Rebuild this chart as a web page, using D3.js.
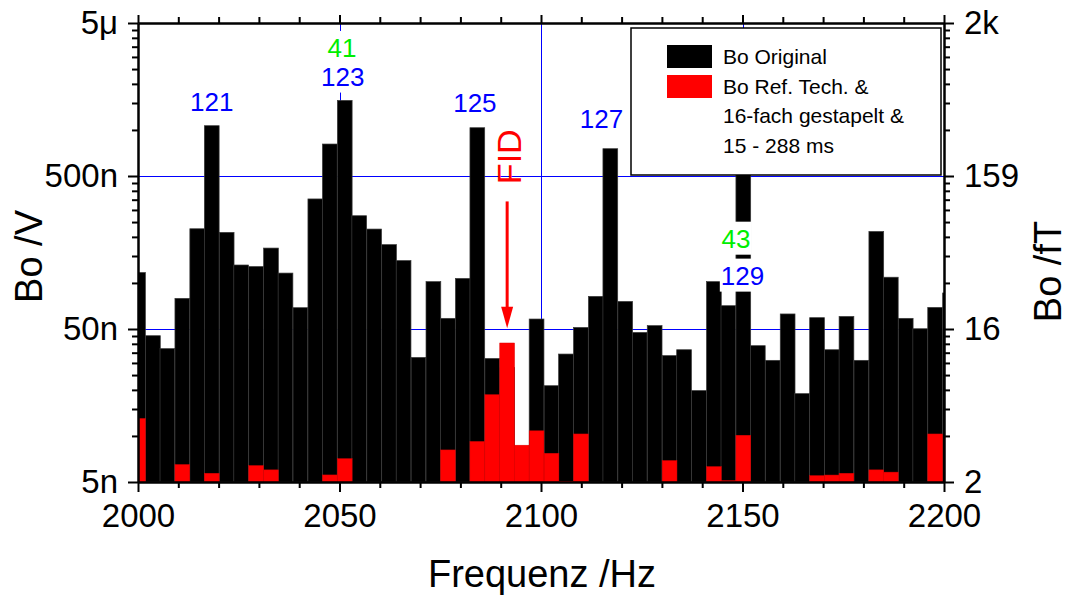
<!doctype html>
<html lang="de">
<head>
    <meta charset="UTF-8">
    <title>Bo Spektrum</title>
    <script src="https://cdnjs.cloudflare.com/ajax/libs/d3/7.8.5/d3.min.js"></script>
</head>

<body>

<svg id="chart" width="1069" height="597"></svg>

<script>

    // bin centres (Hz), bin width = 1 / 273 ms
    var freqs = [2000.0, 2003.7, 2007.3, 2011.0, 2014.7, 2018.3, 2022.0, 2025.6, 2029.3, 2033.0,
        2036.6, 2040.3, 2044.0, 2047.6, 2051.3, 2054.9, 2058.6, 2062.3, 2065.9, 2069.6,
        2073.3, 2076.9, 2080.6, 2084.2, 2087.9, 2091.6, 2095.2, 2098.9, 2102.6, 2106.2,
        2109.9, 2113.6, 2117.2, 2120.9, 2124.5, 2128.2, 2131.9, 2135.5, 2139.2, 2142.9,
        2146.5, 2150.2, 2153.8, 2157.5, 2161.2, 2164.8, 2168.5, 2172.2, 2175.8, 2179.5,
        2183.2, 2186.8, 2190.5, 2194.1, 2197.8, 2201.5];
    var binWidth = 3.663;

    // amplitudes in nV
    var boOriginal = [117, 45.2, 37.2, 79.3, 226, 1066, 214, 131, 128, 169,
        116, 68.9, 354, 809, 1560, 275, 225, 178, 140, 32.6,
        102, 58.7, 107, 1034, 32.1, 28, 8, 58.1, 21.3, 34.3,
        51.2, 81.7, 754, 75.7, 47.5, 52.6, 33.5, 36.6, 19.8, 102,
        71, 1300, 38.9, 31.2, 62.7, 18.9, 59.3, 36.6, 60.4, 31.2,
        217, 109, 58.7, 50.2, 69.2, 86];

    var boRefTech = [13.0, null, null, 6.5, null, 5.7, null, null, 6.4, 6.0,
        null, null, null, 5.56, 7.1, null, null, null, null, null,
        null, 8.1, null, 9.2, 18.6, 40.5, 8.7, 10.8, 7.7, 5.05,
        10.3, null, null, null, null, null, 6.9, null, null, 6.3,
        5.1, 10.1, null, null, null, null, 5.5, 5.55, 5.7, null,
        6.0, 5.8, null, null, 10.3, null];

    var xTicks = [2000, 2050, 2100, 2150, 2200];
    var yTicks = [5, 50, 500, 5000];
    var yLabelsLeft = ["5n", "50n", "500n", "5\u03bc"];
    var yLabelsRight = ["2", "16", "159", "2k"];

    // harmonic markers
    var markText = ["121", "41", "123", "125", "127", "43", "129"];
    var markFreq = [2018.3, 2050.6, 2050.8, 2083.6, 2115.0, 2148.4, 2150.0];
    var markVal = [1320, 3000, 1950, 1316, 1035, 170, 97.5];
    var markColor = ["#0000ff", "#00ee00", "#0000ff", "#0000ff", "#0000ff", "#00ee00", "#0000ff"];

    var fidFreq = 2091.6;

    var font = "'Liberation Sans', Arial, Helvetica, sans-serif";

    var plotLeft = 138, plotRight = 944, plotTop = 23, plotBottom = 482;

    var svg = d3.select('#chart');

    svg.append('rect')
        .attr('width', 1069)
        .attr('height', 597)
        .attr('fill', 'white');

    var x = d3.scaleLinear().domain([2000, 2200]).range([plotLeft, plotRight]);
    var y = d3.scaleLog().domain([5, 5000]).range([plotBottom, plotTop]);

    svg.append('clipPath').attr('id', 'plotclip')
        .append('rect')
        .attr('x', plotLeft).attr('y', plotTop)
        .attr('width', plotRight - plotLeft).attr('height', plotBottom - plotTop);

    // grid
    var grid = svg.append('g').attr('shape-rendering', 'crispEdges');
    [50, 500].forEach(function (v) {
        grid.append('line')
            .attr('x1', plotLeft).attr('x2', plotRight)
            .attr('y1', Math.round(y(v)) + 0.5).attr('y2', Math.round(y(v)) + 0.5)
            .attr('stroke', '#0000ff').attr('stroke-width', 1);
    });
    [2050, 2100, 2150].forEach(function (f) {
        grid.append('line')
            .attr('x1', Math.round(x(f)) + 0.5).attr('x2', Math.round(x(f)) + 0.5)
            .attr('y1', plotTop).attr('y2', plotBottom)
            .attr('stroke', '#0000ff').attr('stroke-width', 1);
    });

    // bars
    var bars = svg.append('g').attr('clip-path', 'url(#plotclip)');

    bars.selectAll('rect.orig')
        .data(freqs)
        .enter()
        .append('rect')
        .attr('class', 'orig')
        .attr('x', function (f) { return x(f - binWidth / 2); })
        .attr('width', function (f) { return x(f + binWidth / 2) - x(f - binWidth / 2); })
        .attr('y', function (f, i) { return y(boOriginal[i]); })
        .attr('height', function (f, i) { return plotBottom - y(boOriginal[i]); })
        .attr('fill', 'black')
        .attr('stroke', '#3a3a3a')
        .attr('stroke-width', 0.7);

    bars.selectAll('rect.ref')
        .data(freqs.filter(function (f, i) { return boRefTech[i] !== null; }))
        .enter()
        .append('rect')
        .attr('class', 'ref')
        .attr('x', function (f) { return x(f - binWidth / 2); })
        .attr('width', function (f) { return x(f + binWidth / 2) - x(f - binWidth / 2); })
        .attr('y', function (f) { return y(boRefTech[freqs.indexOf(f)]); })
        .attr('height', function (f) { return plotBottom - y(boRefTech[freqs.indexOf(f)]); })
        .attr('fill', '#ff0000')
        .attr('stroke', '#dd0000')
        .attr('stroke-width', 0.5);

    // harmonic labels with white background
    for (var i = 0; i < markText.length; i++) {
        var lg = svg.append('g');
        var bg = lg.append('rect').attr('fill', 'white');
        var t = lg.append('text')
            .attr('x', x(markFreq[i]))
            .attr('y', y(markVal[i]))
            .attr('text-anchor', 'middle')
            .attr('font-family', font)
            .attr('font-size', '26px')
            .attr('fill', markColor[i])
            .text(markText[i]);
        var bb = t.node().getBBox();
        bg.attr('x', bb.x - 1).attr('y', bb.y - 2)
            .attr('width', bb.width + 2).attr('height', bb.height + 3);
    }

    // FID arrow
    svg.append('line')
        .attr('x1', x(fidFreq)).attr('x2', x(fidFreq))
        .attr('y1', y(341)).attr('y2', y(68))
        .attr('stroke', '#ff0000').attr('stroke-width', 3);
    svg.append('polygon')
        .attr('points', [
            [x(fidFreq) - 6, y(70)],
            [x(fidFreq) + 6, y(70)],
            [x(fidFreq), y(50.5)]
        ].map(function (p) { return p.join(','); }).join(' '))
        .attr('fill', '#ff0000');
    svg.append('text')
        .attr('transform', 'translate(' + x(2095.0) + ',' + y(668) + ') rotate(-90)')
        .attr('text-anchor', 'middle')
        .attr('font-family', font)
        .attr('font-size', '34px')
        .attr('fill', '#ff0000')
        .text('FID');

    // legend
    var legend = svg.append('g');
    legend.append('rect')
        .attr('x', 631).attr('y', 28)
        .attr('width', 310).attr('height', 147)
        .attr('fill', 'white')
        .attr('stroke', 'black')
        .attr('stroke-width', 1.5);
    legend.append('rect')
        .attr('x', 667).attr('y', 45).attr('width', 45).attr('height', 23)
        .attr('fill', 'black');
    legend.append('rect')
        .attr('x', 667).attr('y', 75).attr('width', 45).attr('height', 23)
        .attr('fill', '#ff0000');
    var legendLines = ["Bo Original", "Bo Ref. Tech. &", "16-fach gestapelt &", "15 - 288 ms"];
    legendLines.forEach(function (s, j) {
        legend.append('text')
            .attr('x', 723)
            .attr('y', 64 + j * 29.7)
            .attr('font-family', font)
            .attr('font-size', '21px')
            .attr('fill', 'black')
            .text(s);
    });

    // axes
    var minorY = [];
    [1, 10, 100, 1000].forEach(function (d) {
        [10, 15, 20, 25, 30, 35, 40, 45].forEach(function (m) {
            var v = m * d / 10;
            if (v > 5 && v < 5000 && yTicks.indexOf(v) < 0) minorY.push(v);
        });
    });
    var minorX = d3.range(2010, 2200, 10).filter(function (v) { return xTicks.indexOf(v) < 0; });

    function styleAxis(g) {
        g.selectAll('path.domain').attr('stroke', 'black').attr('stroke-width', 2);
        g.selectAll('.tick line').attr('stroke', 'black').attr('stroke-width', 2);
        g.selectAll('text')
            .attr('font-family', font)
            .attr('font-size', '33px')
            .attr('fill', 'black');
    }

    var gB = svg.append('g').attr('transform', 'translate(0,' + plotBottom + ')')
        .call(d3.axisBottom(x).tickValues(xTicks).tickSize(10).tickSizeOuter(0).tickPadding(12).tickFormat(d3.format('d')));
    styleAxis(gB);
    svg.append('g').attr('transform', 'translate(0,' + plotBottom + ')')
        .call(d3.axisBottom(x).tickValues(minorX).tickSize(6).tickSizeOuter(0).tickFormat(''))
        .call(styleAxis);

    var gT = svg.append('g').attr('transform', 'translate(0,' + plotTop + ')')
        .call(d3.axisTop(x).tickValues(xTicks).tickSize(8).tickSizeOuter(0).tickFormat(''));
    styleAxis(gT);
    svg.append('g').attr('transform', 'translate(0,' + plotTop + ')')
        .call(d3.axisTop(x).tickValues(minorX).tickSize(6).tickSizeOuter(0).tickFormat(''))
        .call(styleAxis);

    var gL = svg.append('g').attr('transform', 'translate(' + plotLeft + ',0)')
        .call(d3.axisLeft(y).tickValues(yTicks).tickSize(10).tickSizeOuter(0).tickPadding(10)
            .tickFormat(function (d, i) { return yLabelsLeft[i]; }));
    styleAxis(gL);
    svg.append('g').attr('transform', 'translate(' + plotLeft + ',0)')
        .call(d3.axisLeft(y).tickValues(minorY).tickSize(6).tickSizeOuter(0).tickFormat(''))
        .call(styleAxis);

    var gR = svg.append('g').attr('transform', 'translate(' + plotRight + ',0)')
        .call(d3.axisRight(y).tickValues(yTicks).tickSize(10).tickSizeOuter(0).tickPadding(10)
            .tickFormat(function (d, i) { return yLabelsRight[i]; }));
    styleAxis(gR);
    svg.append('g').attr('transform', 'translate(' + plotRight + ',0)')
        .call(d3.axisRight(y).tickValues(minorY).tickSize(6).tickSizeOuter(0).tickFormat(''))
        .call(styleAxis);

    // axis titles
    svg.append('text')
        .attr('transform', 'translate(42,' + ((plotTop + plotBottom) / 2 + 4) + ') rotate(-90)')
        .attr('text-anchor', 'middle')
        .attr('font-family', font)
        .attr('font-size', '38px')
        .text('Bo /V');

    svg.append('text')
        .attr('transform', 'translate(1061,' + ((plotTop + plotBottom) / 2 + 19) + ') rotate(-90)')
        .attr('text-anchor', 'middle')
        .attr('font-family', font)
        .attr('font-size', '38px')
        .text('Bo /fT');

    svg.append('text')
        .attr('x', (plotLeft + plotRight) / 2 + 1)
        .attr('y', 587)
        .attr('text-anchor', 'middle')
        .attr('font-family', font)
        .attr('font-size', '38px')
        .text('Frequenz /Hz');

</script>

<style>
    body {
        margin: 0;
        background: white;
    }
</style>

</body>
</html>
